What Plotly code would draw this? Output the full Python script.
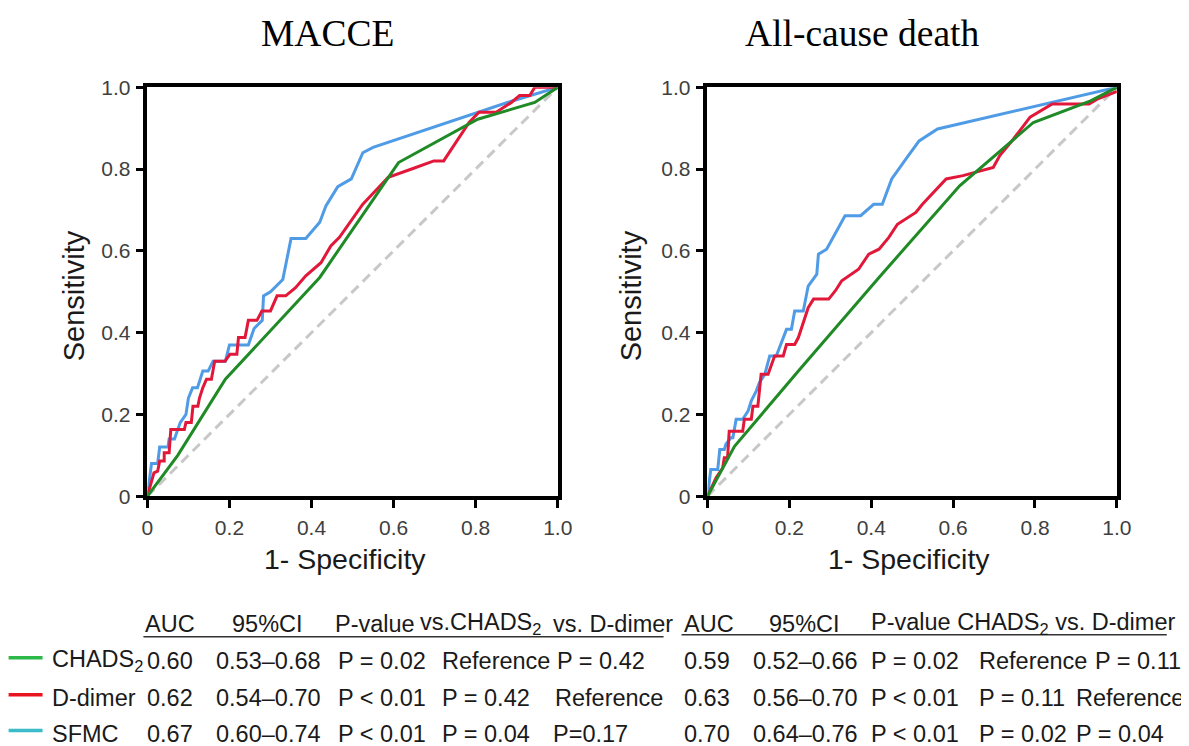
import plotly.graph_objects as go

# ----- ROC data -----
macce_sfmc_x = [0, 0.01, 0.025, 0.03, 0.05, 0.053, 0.066, 0.08, 0.094, 0.10, 0.11, 0.122, 0.135, 0.148,
                0.16, 0.19, 0.20, 0.246, 0.26, 0.28, 0.283, 0.30, 0.33, 0.35, 0.386, 0.42, 0.435, 0.464,
                0.497, 0.525, 0.55, 0.796, 0.887, 1.0]
macce_sfmc_y = [0, 0.08, 0.08, 0.12, 0.12, 0.14, 0.14, 0.18, 0.20, 0.24, 0.265, 0.265, 0.306, 0.306,
                0.33, 0.33, 0.37, 0.37, 0.41, 0.43, 0.49, 0.50, 0.53, 0.63, 0.63, 0.67, 0.71, 0.757,
                0.776, 0.84, 0.853, 0.935, 0.966, 1.0]

macce_ddimer_x = [0, 0.016, 0.025, 0.03, 0.041, 0.041, 0.053, 0.057, 0.09, 0.094, 0.107, 0.111, 0.123,
                  0.127, 0.135, 0.144, 0.156, 0.164, 0.189, 0.201, 0.218, 0.222, 0.238, 0.246, 0.267,
                  0.279, 0.300, 0.316, 0.337, 0.361, 0.386, 0.423, 0.447, 0.468, 0.525, 0.587, 0.649,
                  0.698, 0.722, 0.784, 0.808, 0.850, 0.887, 0.907, 0.932, 0.944, 1.0]
macce_ddimer_y = [0, 0.057, 0.061, 0.086, 0.086, 0.106, 0.106, 0.163, 0.163, 0.18, 0.18, 0.22, 0.22,
                  0.24, 0.265, 0.286, 0.286, 0.33, 0.33, 0.347, 0.347, 0.388, 0.388, 0.43, 0.43,
                  0.453, 0.453, 0.49, 0.49, 0.51, 0.539, 0.571, 0.612, 0.633, 0.714, 0.78, 0.802,
                  0.82, 0.82, 0.914, 0.939, 0.939, 0.963, 0.98, 0.98, 1.0, 1.0]

macce_chads_x = [0, 0.074, 0.19, 0.42, 0.612, 0.805, 0.944, 1.0]
macce_chads_y = [0, 0.10, 0.286, 0.535, 0.816, 0.922, 0.963, 1.0]

death_sfmc_x = [0, 0.008, 0.025, 0.03, 0.041, 0.045, 0.057, 0.062, 0.07, 0.086, 0.099, 0.107, 0.119,
                0.127, 0.140, 0.152, 0.168, 0.193, 0.205, 0.213, 0.234, 0.246, 0.267, 0.271, 0.291,
                0.336, 0.374, 0.406, 0.427, 0.45, 0.488, 0.517, 0.562, 1.0]
death_sfmc_y = [0, 0.065, 0.065, 0.114, 0.114, 0.127, 0.143, 0.143, 0.188, 0.188, 0.208, 0.233, 0.257,
                0.278, 0.298, 0.343, 0.343, 0.408, 0.408, 0.453, 0.453, 0.514, 0.543, 0.592, 0.604,
                0.686, 0.686, 0.714, 0.714, 0.776, 0.829, 0.869, 0.898, 1.0]

death_ddimer_x = [0, 0.021, 0.037, 0.041, 0.049, 0.053, 0.086, 0.090, 0.107, 0.111, 0.123, 0.131, 0.148,
                  0.156, 0.164, 0.185, 0.193, 0.213, 0.222, 0.246, 0.259, 0.296, 0.312, 0.328, 0.369,
                  0.394, 0.419, 0.443, 0.464, 0.509, 0.525, 0.583, 0.624, 0.698, 0.714, 0.747, 0.788,
                  0.842, 0.932, 0.952, 1.0]
death_ddimer_y = [0, 0.045, 0.069, 0.094, 0.094, 0.159, 0.159, 0.188, 0.188, 0.220, 0.220, 0.298, 0.298,
                  0.322, 0.343, 0.343, 0.371, 0.371, 0.388, 0.461, 0.482, 0.482, 0.502, 0.527, 0.555,
                  0.592, 0.604, 0.633, 0.665, 0.694, 0.714, 0.776, 0.784, 0.804, 0.833, 0.873, 0.927,
                  0.959, 0.959, 0.971, 0.99]

death_chads_x = [0, 0.066, 0.222, 0.419, 0.616, 0.796, 0.936, 1.0]
death_chads_y = [0, 0.122, 0.306, 0.535, 0.759, 0.914, 0.967, 1.0]

ref_x = [0, 1]
ref_y = [0, 1]

tick_vals = [0, 0.2, 0.4, 0.6, 0.8, 1.0]
tick_text = ["0", "0.2", "0.4", "0.6", "0.8", "1.0"]

panel_titles = ["MACCE", "All-cause death"]

# ----- Table text -----
markers = ["CHADS<sub>2</sub>", "D-dimer", "SFMC"]
header_left = ["AUC", "95%CI", "P-value", "vs.CHADS<sub>2</sub>", "vs. D-dimer"]
header_right = ["AUC", "95%CI", "P-value CHADS<sub>2</sub> vs. D-dimer"]
macce_auc = ["0.60", "0.62", "0.67"]
macce_ci = ["0.53\u20130.68", "0.54\u20130.70", "0.60\u20130.74"]
macce_p = ["P = 0.02", "P < 0.01", "P < 0.01"]
macce_vs_chads = ["Reference", "P = 0.42", "P = 0.04"]
macce_vs_ddimer = ["P = 0.42", "Reference", "P=0.17"]
death_auc = ["0.59", "0.63", "0.70"]
death_ci = ["0.52\u20130.66", "0.56\u20130.70", "0.64\u20130.76"]
death_p = ["P = 0.02", "P < 0.01", "P < 0.01"]
death_vs_chads = ["Reference", "P = 0.11", "P = 0.02"]
death_vs_ddimer = ["P = 0.11", "Reference", "P = 0.04"]

# ----- Styling -----
# positions below are given in screenshot pixels; the viewer maps figure px -> screen
# roughly as sx = 0.984*f + 13.4, sy = 0.972*f + 17.5, so undo that here
W, H = 1196, 750
BLUE = "#4f9be6"
RED = "#e2183a"
GREEN = "#1f8a26"
SANS = "Liberation Sans"
SERIF = "Liberation Serif"


def px(x):
    return (x - 13.4) / 0.984 / W


def py(y):
    return 1 - (y - 17.5) / 0.972 / H


fig = go.Figure()

panels = [
    ("x", "y", macce_sfmc_x, macce_sfmc_y, macce_ddimer_x, macce_ddimer_y, macce_chads_x, macce_chads_y),
    ("x2", "y2", death_sfmc_x, death_sfmc_y, death_ddimer_x, death_ddimer_y, death_chads_x, death_chads_y),
]
for xa, ya, sx, sy, dx, dy, cx, cy in panels:
    fig.add_trace(go.Scatter(x=ref_x, y=ref_y, mode="lines", xaxis=xa, yaxis=ya,
                             line=dict(color="#c8c8c8", width=3, dash="10px,6px"), cliponaxis=False))
    fig.add_trace(go.Scatter(x=sx, y=sy, mode="lines", xaxis=xa, yaxis=ya, name="SFMC",
                             line=dict(color=BLUE, width=3), cliponaxis=False))
    fig.add_trace(go.Scatter(x=dx, y=dy, mode="lines", xaxis=xa, yaxis=ya, name="D-dimer",
                             line=dict(color=RED, width=3), cliponaxis=False))
    fig.add_trace(go.Scatter(x=cx, y=cy, mode="lines", xaxis=xa, yaxis=ya, name="CHADS2",
                             line=dict(color=GREEN, width=3), cliponaxis=False))

axis_style = dict(range=[0, 1], tickvals=tick_vals, ticktext=tick_text, showgrid=False, zeroline=False,
                  showline=True, linecolor="black", linewidth=3.5, mirror=True, ticks="outside",
                  ticklen=8, tickwidth=3, tickcolor="black",
                  tickfont=dict(family=SANS, size=21, color="#404040"))

y_dom = [py(495), py(85)]
fig.update_layout(
    width=W, height=H, showlegend=False,
    margin=dict(l=0, r=0, t=0, b=0),
    paper_bgcolor="white", plot_bgcolor="white",
    xaxis=dict(domain=[px(147), px(558)], anchor="y", ticklabelstandoff=2, **axis_style),
    yaxis=dict(domain=y_dom, anchor="x", ticklabelstandoff=1, **axis_style),
    xaxis2=dict(domain=[px(708), px(1118)], anchor="y2", ticklabelstandoff=2, **axis_style),
    yaxis2=dict(domain=y_dom, anchor="x2", ticklabelstandoff=1, **axis_style),
)

ann = []


def text(t, x, y, size=23.5, family=SANS, xanchor="left", angle=0, color="#1a1a1a"):
    ann.append(dict(text=t, x=px(x), y=py(y), xref="paper", yref="paper", showarrow=False,
                    xanchor=xanchor, yanchor="middle", textangle=angle,
                    font=dict(family=family, size=size, color=color)))


# Titles and axis titles
for t, cx in zip(panel_titles, [327, 863]):
    text(t, cx, 31, size=37.5, family=SERIF, xanchor="center", color="black")
for cx in [73, 631]:
    text("Sensitivity", cx, 294, size=29, xanchor="center", angle=-90)
for cx in [345, 910]:
    text("1- Specificity", cx, 558, size=28.5, xanchor="center")

# Table
row_y = [660, 697, 733]
head_y = 623
for t, x in zip(header_left, [143, 230, 333, 418, 551]):
    text(t, x, head_y)
for t, x in zip(header_right, [682, 768, 870]):
    text(t, x, head_y)

for i, yy in enumerate(row_y):
    text(markers[i], 49, yy)
    text(macce_auc[i], 145, yy)
    text(macce_ci[i], 214, yy)
    text(macce_p[i], 336, yy)
    text(macce_vs_chads[i], 440, yy)
    text(macce_vs_ddimer[i], [555, 553, 551][i], yy)
    text(death_auc[i], 682, yy)
    text(death_ci[i], 752, yy)
    text(death_p[i], 870, yy)
    text(death_vs_chads[i], 978, yy)
    text(death_vs_ddimer[i], [1094, 1075, 1075][i], yy)

fig.update_layout(annotations=ann)

# legend swatches and header underlines
shapes = []
for yy, col in zip(row_y, ["#2db84a", "#e8141e", "#3bbcc8"]):
    shapes.append(dict(type="line", xref="paper", yref="paper", x0=px(8), x1=px(42), y0=py(yy - 3),
                       y1=py(yy - 3), line=dict(color=col, width=3.5)))
shapes.append(dict(type="line", xref="paper", yref="paper", x0=px(143), x1=px(664), y0=py(636), y1=py(636),
                   line=dict(color="#333333", width=1.5)))
shapes.append(dict(type="line", xref="paper", yref="paper", x0=px(682), x1=px(1168), y0=py(634), y1=py(634),
                   line=dict(color="#333333", width=1.5)))
fig.update_layout(shapes=shapes)

fig.write_html("out.html")
